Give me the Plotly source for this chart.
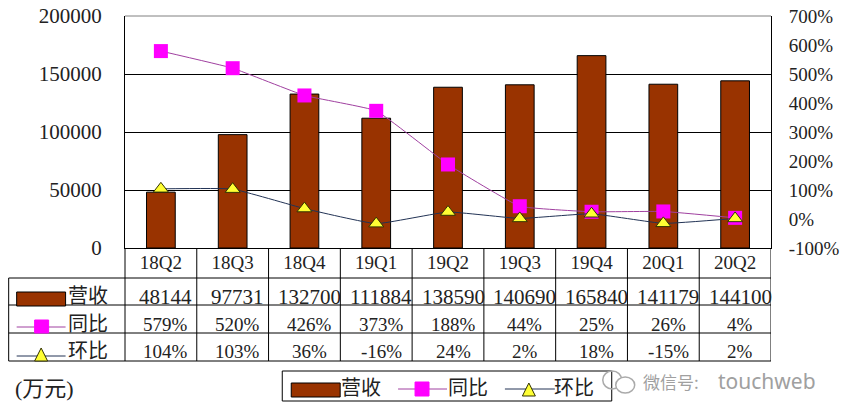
import plotly.graph_objects as go

quarters = ['18Q2', '18Q3', '18Q4', '19Q1', '19Q2', '19Q3', '19Q4', '20Q1', '20Q2']
revenue = [48144, 97731, 132700, 111884, 138590, 140690, 165840, 141179, 144100]
yoy = [579, 520, 426, 373, 188, 44, 25, 26, 4]
qoq = [104, 103, 36, -16, 24, 2, 18, -15, 2]
left_ticks = [0, 50000, 100000, 150000, 200000]
right_ticks = [-100, 0, 100, 200, 300, 400, 500, 600, 700]

BROWN = '#993300'
MAGENTA = '#ff00ff'
PURPLE = '#a040a0'
YELLOW = '#ffff33'
FONT = 'Liberation Serif, Noto Sans CJK SC, serif'
INK = '#222222'

W, H = 844, 418
L, R, T, B = 124.5, 771.5, 16, 248


# pixel -> paper coordinates, for the table and the hand-made legend
def px(x):
    return (x - L) / (R - L)


def py(y):
    return (B - y) / (B - T)


fig = go.Figure()
fig.add_trace(go.Bar(x=quarters, y=revenue, name='营收', width=0.4,
                     marker=dict(color=BROWN, line=dict(color='black', width=1))))
fig.add_trace(go.Scatter(x=quarters, y=yoy, name='同比', yaxis='y2', mode='lines+markers',
                         line=dict(color=PURPLE, width=1, shape='spline', smoothing=0.3),
                         marker=dict(symbol='square', size=14, color=MAGENTA)))
fig.add_trace(go.Scatter(x=quarters, y=qoq, name='环比', yaxis='y2', mode='lines+markers',
                         line=dict(color='#223355', width=1, shape='spline', smoothing=0.35),
                         marker=dict(symbol='triangle-up', size=13, color=YELLOW,
                                     line=dict(color='#333300', width=1))))

shapes = []
annotations = []


def hline(x0, x1, y, color='black', width=1):
    shapes.append(dict(type='line', xref='paper', yref='paper', x0=px(x0), x1=px(x1),
                       y0=py(y), y1=py(y), line=dict(color=color, width=width)))


def vline(x, y0, y1):
    shapes.append(dict(type='line', xref='paper', yref='paper', x0=px(x), x1=px(x),
                       y0=py(y0), y1=py(y1), line=dict(color='black', width=1)))


def box(x0, x1, y0, y1, fill, line='black'):
    shapes.append(dict(type='rect', xref='paper', yref='paper', x0=px(x0), x1=px(x1),
                       y0=py(y0), y1=py(y1), fillcolor=fill, line=dict(color=line, width=1)))


def triangle(cx, top, bottom):
    half = (bottom - top) / 2
    path = 'M %f %f L %f %f L %f %f Z' % (px(cx - half), py(bottom), px(cx + half), py(bottom),
                                          px(cx), py(top))
    shapes.append(dict(type='path', xref='paper', yref='paper', path=path, fillcolor=YELLOW,
                       line=dict(color='#333300', width=1)))


def label(x, y, text, size=20, color=INK, anchor='left', xref='paper', xshift=-3, family=FONT):
    annotations.append(dict(x=px(x) if xref == 'paper' else x, y=py(y), xref=xref, yref='paper',
                            text=text, showarrow=False, xanchor=anchor, yanchor='middle',
                            xshift=xshift, font=dict(family=family, size=size, color=color)))


# top edge of the plot is grey
hline(L, R, T, color='#808080')

# data table under the plot
for y in [278, 305, 333, 361]:
    hline(8, R, y)
vline(8, 278, 361)
vline(L, B, 361)
for i in range(len(quarters)):
    xr = i + 0.5
    shapes.append(dict(type='line', xref='x', yref='paper', x0=xr, x1=xr, y0=py(B), y1=py(361),
                       line=dict(color='black', width=1)))

row_y = [297, 324, 351]
for i, q in enumerate(quarters):
    label(q, row_y[0], str(revenue[i]), size=21, anchor='center', xref='x', xshift=5)
    label(q, row_y[1], '%d%%' % yoy[i], size=19, anchor='center', xref='x', xshift=5)
    label(q, row_y[2], '%d%%' % qoq[i], size=19, anchor='center', xref='x', xshift=5)

label(68, 296, '营收')
label(68, 324, '同比')
label(68, 351, '环比')
box(16, 65, 292, 306, BROWN)
hline(16, 65, 327, color=PURPLE)
box(34, 48, 320, 333, MAGENTA, line=MAGENTA)
hline(16, 65, 356, color='#223355')
triangle(40.5, 348, 361)

label(15, 388, '(万元)', size=22)

# legend box
box(282, 612, 371, 401, 'white')
box(291, 340, 383, 397, BROWN)
label(342, 388, '营收')
hline(398, 447, 389, color=PURPLE)
box(415, 429, 382, 396, MAGENTA, line=MAGENTA)
label(449, 388, '同比')
hline(505, 555, 389, color='#223355')
triangle(529, 383, 396)
label(555, 388, '环比')

# watermark
shapes.append(dict(type='circle', xref='paper', yref='paper', x0=px(603), x1=px(622),
                   y0=py(371), y1=py(389), line=dict(color='#aaaaaa', width=1.5)))
shapes.append(dict(type='circle', xref='paper', yref='paper', x0=px(616), x1=px(635),
                   y0=py(377), y1=py(393), fillcolor='white', line=dict(color='#aaaaaa', width=1.5)))
label(644, 381, '微信号:', size=17, color='#a0a0a0', family='Noto Sans CJK SC')
label(719, 381, 'touchweb', size=21, color='#a0a0a0', family='Noto Sans')

fig.update_layout(
    width=W, height=H, autosize=False, showlegend=False, bargap=0.6,
    paper_bgcolor='white', plot_bgcolor='white',
    margin=dict(l=L, r=W - R, t=T, b=H - B, pad=0, autoexpand=False),
    font=dict(family=FONT, size=20, color=INK),
    shapes=shapes, annotations=annotations,
    xaxis=dict(type='category', range=[-0.5, 8.5], automargin=False, showline=True, linecolor='black',
               linewidth=1, showgrid=False, ticks='', ticklabelstandoff=-3, tickfont=dict(size=19)),
    yaxis=dict(range=[0, 200000], tickvals=left_ticks, tickformat='d', automargin=False,
               ticklabeloverflow='allow', showline=True, linecolor='black', linewidth=1,
               gridcolor='black', gridwidth=1, zeroline=False, ticks='', ticklabelstandoff=18,
               tickfont=dict(size=21)),
    yaxis2=dict(range=[-100, 700], tickvals=right_ticks, ticktext=['%d%%' % v for v in right_ticks],
                overlaying='y', side='right', automargin=False, ticklabeloverflow='allow',
                showline=True, linecolor='black', linewidth=1, showgrid=False, zeroline=False,
                ticks='', ticklabelstandoff=13, tickfont=dict(size=19)),
)

# the page's default body margin would push the figure 8px off
fig.write_html("out.html", config={'displayModeBar': False},
               post_script="document.body.style.margin = '0';")
